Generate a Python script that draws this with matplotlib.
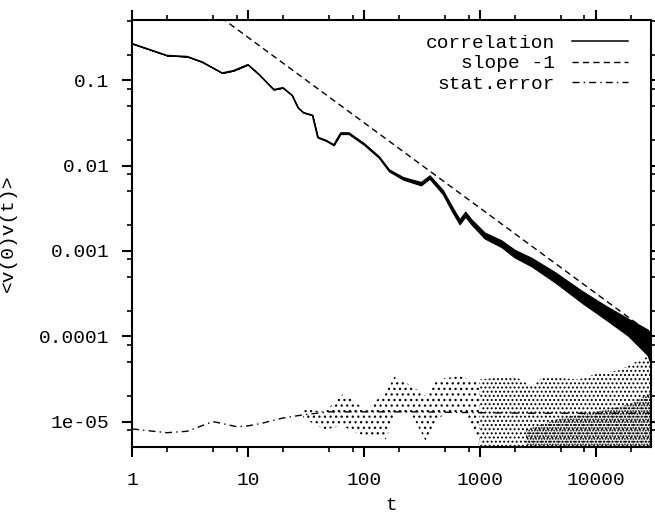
import numpy as np
import matplotlib
matplotlib.use("Agg")
import matplotlib.pyplot as plt
from matplotlib.ticker import LogLocator, NullFormatter, FixedLocator, FixedFormatter

plt.rcParams['font.family'] = ['Liberation Mono', 'DejaVu Sans Mono']
plt.rcParams['hatch.linewidth'] = 0.9

# correlation curve (centre)
t_corr = [1, 2, 3, 4, 6, 7.5, 10, 12.4, 16.7, 20, 24, 27, 30, 36, 40, 47, 55, 63, 74,
          100, 135, 165, 218, 311, 369, 480, 585, 670, 750, 845, 1100, 1530, 2000,
          2800, 4470, 7600, 12000, 19000, 28000, 30000]
v_corr = [0.27, 0.196, 0.19, 0.165, 0.122, 0.13, 0.153, 0.118, 0.078, 0.082, 0.067,
          0.048, 0.042, 0.039, 0.0215, 0.0198, 0.0175, 0.024, 0.024,
          0.018, 0.0126, 0.0088, 0.0071, 0.00615, 0.00736, 0.0049, 0.003, 0.0022,
          0.0027, 0.0022, 0.00152, 0.00122, 0.00093,
          0.00074, 0.00049, 0.00029, 0.000192, 0.000128, 0.000085, 0.00007]
# half-width of the noisy band (decades)
s_corr = [0, 0, 0, 0, 0, 0, 0, 0, 0, 0, 0, 0, 0, 0, 0.005, 0.005, 0.005, 0.01, 0.01,
          0.01, 0.01, 0.012, 0.015, 0.02, 0.02, 0.025, 0.03, 0.03, 0.03, 0.03, 0.035, 0.04, 0.045,
          0.05, 0.06, 0.07, 0.08, 0.1, 0.15, 0.18]

slope_amp = 3.2  # slope -1 line: amp / t

# statistical error: smooth level
t_err = [1, 2, 3, 5, 8, 10, 13, 20, 30, 50, 100, 300, 1000, 3000, 30000]
v_err = [8.2e-6, 7.4e-6, 7.7e-6, 1.0e-5, 8.7e-6, 8.9e-6, 9.5e-6, 1.1e-5, 1.2e-5,
         1.3e-5, 1.3e-5, 1.3e-5, 1.27e-5, 1.25e-5, 1.25e-5]

# scattered error cloud envelopes (sparse part)
t_cloud = [30, 46, 55, 66, 75, 105, 140, 155, 185, 260, 340, 430, 480, 680, 750, 950, 1000]
cloud_hi = [1.4e-5, 1.3e-5, 1.65e-5, 2.1e-5, 1.9e-5, 1.35e-5, 2.0e-5, 2.2e-5, 3.4e-5,
            2.6e-5, 2.0e-5, 3.1e-5, 3.2e-5, 3.4e-5, 3.2e-5, 3.0e-5, 3.1e-5]
cloud_lo = [1.1e-5, 8e-6, 8.5e-6, 9e-6, 8e-6, 6.7e-6, 6.5e-6, 6.2e-6, 1.2e-5,
            1.2e-5, 6e-6, 1.0e-5, 1.2e-5, 1.3e-5, 1.2e-5, 6e-6, 5e-6]
# scattered error cloud (streaky late part)
t_late = [1000, 1200, 1500, 2000, 2800, 3600, 7000, 10000, 16000, 22000, 30000]
late_hi = [3.1e-5, 3.2e-5, 3.4e-5, 3.4e-5, 2.6e-5, 3.4e-5, 3.1e-5, 3.6e-5, 4.0e-5, 5.0e-5, 6.0e-5]
t_dense = [2500, 5000, 10000, 20000, 30000]
dense_hi = [8e-6, 1.1e-5, 1.3e-5, 1.6e-5, 2.2e-5]

xticks = [1, 10, 100, 1000, 10000]
xticklabels = ["1", "10", "100", "1000", "10000"]
yticks = [1e-5, 1e-4, 1e-3, 1e-2, 1e-1]
yticklabels = ["1e-05", "0.0001", "0.001", "0.01", "0.1"]

fig = plt.figure(figsize=(6.55, 5.14), dpi=100)
ax = fig.add_axes([132/655, 1-446.5/514, 519/655, 426.5/514])
ax.set_xscale('log')
ax.set_yscale('log')
ax.set_xlim(1, 30000)
ax.set_ylim(5.1e-6, 0.51)

tc = np.array(t_corr); vc = np.array(v_corr); sc = np.array(s_corr)
ax.fill_between(tc, vc * 10**(-sc), vc * 10**(sc), color='black', lw=0.8)
ax.plot(tc, vc, color='black', lw=1.1, label='correlation')

tt = np.array([1, 30000])
ax.plot(tt, slope_amp / tt, color='black', lw=1.0, linestyle=(0, (4.5, 3)), label='slope -1')

ax.fill_between(t_cloud, cloud_lo, cloud_hi, facecolor='none', edgecolor='black',
                hatch='...', lw=0)
ax.fill_between(t_late, 5e-6, late_hi, facecolor='none', edgecolor='black',
                hatch='....', lw=0)
ax.fill_between(t_dense, 5e-6, dense_hi, facecolor='none', edgecolor='black',
                hatch='......', lw=0)
ax.plot(t_err, v_err, color='black', lw=1.0, linestyle=(0, (5, 3, 1, 3)), label='stat.error')

ax.xaxis.set_major_locator(FixedLocator(xticks))
ax.xaxis.set_major_formatter(FixedFormatter(xticklabels))
ax.yaxis.set_major_locator(FixedLocator(yticks))
ax.yaxis.set_major_formatter(FixedFormatter(yticklabels))
ax.xaxis.set_minor_locator(LogLocator(base=10, subs=[2, 5, 8], numticks=20))
ax.yaxis.set_minor_locator(LogLocator(base=10, subs=[2, 5, 8], numticks=20))
ax.xaxis.set_minor_formatter(NullFormatter())
ax.yaxis.set_minor_formatter(NullFormatter())

for s in ax.spines.values():
    s.set_linewidth(1.5)
ax.tick_params(which='both', direction='out', top=True, right=True, labelsize=14)
ax.tick_params(which='major', length=7.2, width=1.5)
ax.tick_params(which='minor', length=3.6, width=1.2)
ax.tick_params(axis='y', which='major', pad=9)
ax.tick_params(axis='x', which='major', pad=11)

ax.set_xlabel('t', fontsize=14)
ax.xaxis.set_label_coords(0.5, -0.118)
ax.set_ylabel('<v(0)v(t)>', fontsize=14)
ax.yaxis.set_label_coords(-0.222, 0.5)

leg = ax.legend(loc='upper right', frameon=False, markerfirst=False, fontsize=14,
                handlelength=2.85, handletextpad=0.9, labelspacing=0.15,
                borderaxespad=0.0, bbox_to_anchor=(0.97, 0.985))
for txt in leg.get_texts():
    txt.set_ha('right')
leg._legend_box.align = 'right'

fig.savefig('out.png', dpi=100)
